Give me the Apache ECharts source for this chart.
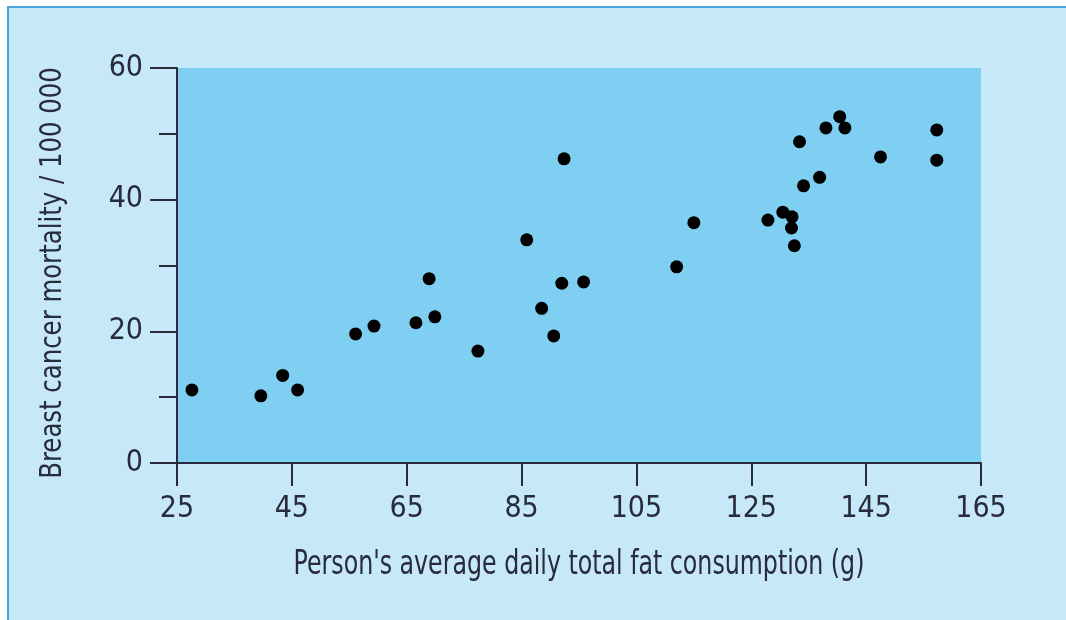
<!DOCTYPE html>
<html>
<head>
<meta charset="utf-8">
<script src="https://cdn.jsdelivr.net/npm/echarts@6/dist/echarts.min.js"></script>
<style>
  html, body { margin: 0; padding: 0; background: #ffffff; }
  #frame {
    position: absolute; left: 7px; top: 6px; right: 0; bottom: 0;
    background: #c6e8f9;
    border-left: 2px solid #45a7d8;
    border-top: 2px solid #45a7d8;
  }
  #chart { position: absolute; left: 0; top: 0; width: 1066px; height: 620px; }
</style>
</head>
<body>
<div id="frame"></div>
<div id="chart"></div>
<script>
// Average daily total fat consumption per person (g), by country
const fatIntake = [
  27.6, 39.6, 43.4, 46.0, 56.1, 59.3, 66.6, 68.9, 69.9, 77.4,
  85.9, 88.5, 90.6, 92.0, 92.4, 95.8, 112.0, 115.0, 127.9, 130.5,
  132.1, 132.0, 132.5, 133.4, 134.1, 136.9, 138.0, 140.4, 141.3, 147.5,
  157.3, 157.3
];
// Breast cancer deaths per 100 000 people
const mortality = [
  11.1, 10.2, 13.3, 11.1, 19.6, 20.8, 21.3, 28.0, 22.2, 17.0,
  33.9, 23.5, 19.3, 27.3, 46.2, 27.5, 29.8, 36.5, 36.9, 38.1,
  37.4, 35.7, 33.0, 48.8, 42.1, 43.4, 50.9, 52.6, 50.9, 46.5,
  50.6, 46.0
];
const xTicks = [25, 45, 65, 85, 105, 125, 145, 165];
const yTicks = [0, 20, 40, 60];

const xTitle = "Person's average daily total fat consumption (g)";
const yTitle = 'Breast cancer mortality / 100 000';

const FONT = "'Liberation Sans Narrow', 'DejaVu Sans Condensed', 'Liberation Sans', sans-serif";
const INK = '#272b3a';

const GRID = { left: 177, top: 68, right: 85, bottom: 157 };
const plotCx = GRID.left + (1066 - GRID.left - GRID.right) / 2;

const points = fatIntake.map((x, i) => [x, mortality[i]]);

const chart = echarts.init(document.getElementById('chart'), null, { renderer: 'canvas' });
chart.setOption({
  backgroundColor: 'transparent',
  animation: false,
  grid: Object.assign({ show: true, backgroundColor: '#7fcff3', borderWidth: 0 }, GRID),
  // axis titles in a narrow face: condensed horizontally
  graphic: [
    {
      type: 'text', x: plotCx, y: 565, scaleX: 0.775, silent: true,
      style: {
        text: xTitle, fill: INK, font: '34px ' + FONT,
        textAlign: 'center', textVerticalAlign: 'middle'
      }
    },
    {
      type: 'text', x: 53, y: 273, rotation: Math.PI / 2, scaleX: 0.875, silent: true,
      style: {
        text: yTitle, fill: INK, font: '31px ' + FONT,
        textAlign: 'center', textVerticalAlign: 'middle'
      }
    }
  ],
  xAxis: {
    type: 'value',
    min: xTicks[0], max: xTicks[xTicks.length - 1],
    interval: xTicks[1] - xTicks[0],
    axisLine: { show: true, onZero: false, lineStyle: { color: INK, width: 2 } },
    axisTick: { show: true, length: 23, lineStyle: { color: INK, width: 2 } },
    axisLabel: { margin: 31, fontFamily: FONT, fontSize: 30, color: INK },
    splitLine: { show: false }
  },
  yAxis: {
    type: 'value',
    min: yTicks[0], max: yTicks[yTicks.length - 1],
    interval: yTicks[1] - yTicks[0],
    axisLine: { show: true, lineStyle: { color: INK, width: 2 } },
    axisTick: { show: true, length: 27, lineStyle: { color: INK, width: 2 } },
    minorTick: { show: true, splitNumber: 2, length: 18, lineStyle: { color: INK, width: 2 } },
    axisLabel: { margin: 34, fontFamily: FONT, fontSize: 30, color: INK },
    splitLine: { show: false },
    minorSplitLine: { show: false }
  },
  series: [{
    type: 'scatter',
    data: points,
    symbol: 'circle',
    symbolSize: 13,
    itemStyle: { color: '#000000', opacity: 1 }
  }]
});
</script>
</body>
</html>
